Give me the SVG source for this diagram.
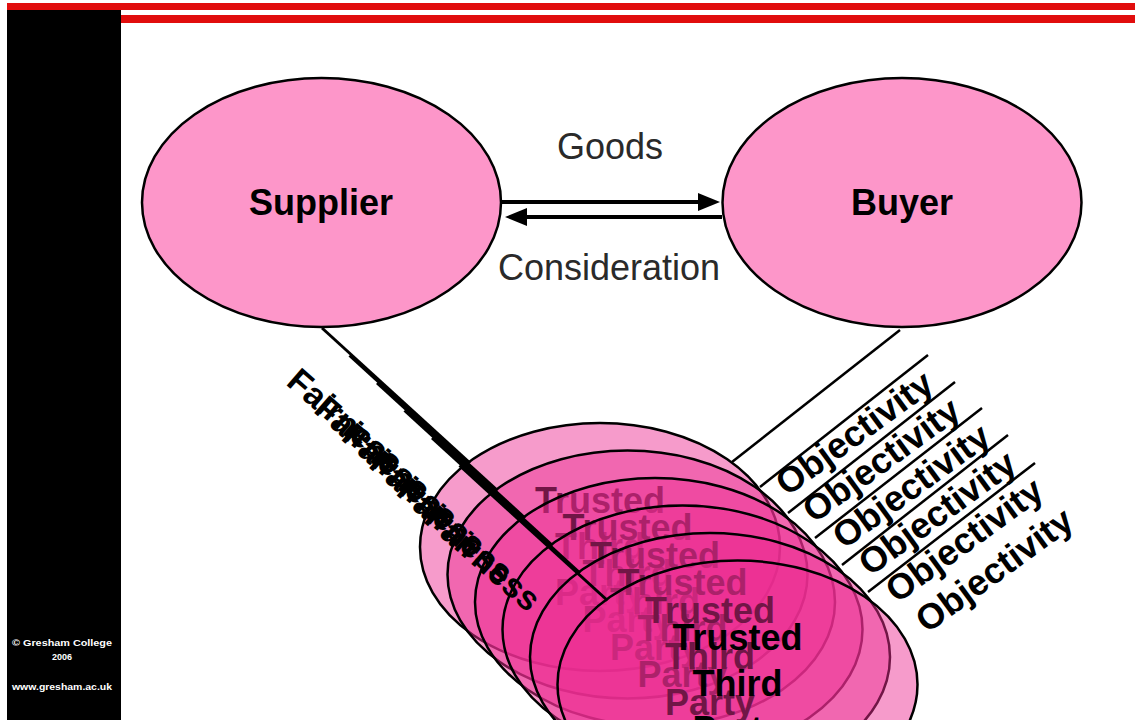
<svg xmlns="http://www.w3.org/2000/svg" width="1135" height="720" viewBox="0 0 1135 720">
<defs>
<style>
.red{fill:#e10d0d}
.side{fill:#000}
.sidetxt{fill:#fff;font-family:"Liberation Sans",Arial,sans-serif;font-weight:bold;font-size:9px;text-anchor:middle}
.party{fill:#fd96c9;stroke:#000;stroke-width:2.5}
.ptxt{font-family:"Liberation Sans",Arial,sans-serif;font-weight:bold;font-size:36px;fill:#000;text-anchor:middle}
.ttp{fill:#ec2f93;fill-opacity:0.48;stroke:#000;stroke-width:2.5}
.ttptxt{font-family:"Liberation Sans",Arial,sans-serif;font-weight:bold;font-size:36px;fill:#000;text-anchor:middle}
.flow{stroke:#000;stroke-width:4;fill:none}
.lbl{font-family:"Liberation Sans",Arial,sans-serif;font-size:36px;fill:#2a2a2a;text-anchor:middle}
.link{stroke:#000;stroke-width:3;fill:none}
.rlink{stroke:#000;stroke-width:2.5;fill:none}
.lnk{font-family:"Liberation Sans",Arial,sans-serif;font-weight:bold;font-size:34px;fill:#000}
.obj{font-size:36px}
</style>
<marker id="ah" markerUnits="userSpaceOnUse" markerWidth="22" markerHeight="18" refX="14" refY="9" orient="auto"><path d="M0,0 L22,9 L0,18 z" fill="#000"/></marker>
</defs>
<rect width="1135" height="720" fill="#fff"/>
<g id="frame">
<rect class="red" x="7" y="3" width="1128" height="7"/>
<rect class="red" x="121" y="15" width="1014" height="8"/>
<rect class="side" x="7" y="10" width="114" height="710"/>
<text class="sidetxt" x="62" y="646" textLength="100" lengthAdjust="spacingAndGlyphs">© Gresham College</text>
<text class="sidetxt" x="62" y="660">2006</text>
<text class="sidetxt" x="62" y="690" textLength="100" lengthAdjust="spacingAndGlyphs">www.gresham.ac.uk</text>
</g>
<g id="trusted-third-party">
<g id="ttp-0"><ellipse class="ttp" cx="600" cy="547" rx="180" ry="124"/><text class="ttptxt" x="600" y="512.5">Trusted</text><text class="ttptxt" x="600" y="558.5">Third</text><text class="ttptxt" x="600" y="604.5">Party</text></g>
<g id="ttp-1" transform="translate(27.5,27.5)"><ellipse class="ttp" cx="600" cy="547" rx="180" ry="124"/><text class="ttptxt" x="600" y="512.5">Trusted</text><text class="ttptxt" x="600" y="558.5">Third</text><text class="ttptxt" x="600" y="604.5">Party</text></g>
<g id="ttp-2" transform="translate(55,55)"><ellipse class="ttp" cx="600" cy="547" rx="180" ry="124"/><text class="ttptxt" x="600" y="512.5">Trusted</text><text class="ttptxt" x="600" y="558.5">Third</text><text class="ttptxt" x="600" y="604.5">Party</text></g>
<g id="ttp-3" transform="translate(82.5,82.5)"><ellipse class="ttp" cx="600" cy="547" rx="180" ry="124"/><text class="ttptxt" x="600" y="512.5">Trusted</text><text class="ttptxt" x="600" y="558.5">Third</text><text class="ttptxt" x="600" y="604.5">Party</text></g>
<g id="ttp-4" transform="translate(110,110)"><ellipse class="ttp" cx="600" cy="547" rx="180" ry="124"/><text class="ttptxt" x="600" y="512.5">Trusted</text><text class="ttptxt" x="600" y="558.5">Third</text><text class="ttptxt" x="600" y="604.5">Party</text></g>
<g id="ttp-5" transform="translate(137.5,137.5)"><ellipse class="ttp" cx="600" cy="547" rx="180" ry="124"/><text class="ttptxt" x="600" y="512.5">Trusted</text><text class="ttptxt" x="600" y="558.5">Third</text><text class="ttptxt" x="600" y="604.5">Party</text></g>
</g>
<g id="connectors">
<line class="flow" x1="502" y1="202" x2="712" y2="202" marker-end="url(#ah)"/>
<line class="flow" x1="722" y1="217" x2="513" y2="217" marker-end="url(#ah)"/>
<line class="link" x1="322" y1="328" x2="470" y2="463"/>
<line class="link" x1="349.5" y1="355.5" x2="497.5" y2="490.5"/>
<line class="link" x1="377" y1="383" x2="525" y2="518"/>
<line class="link" x1="404.5" y1="410.5" x2="552.5" y2="545.5"/>
<line class="link" x1="432" y1="438" x2="580" y2="573"/>
<line class="link" x1="459.5" y1="465.5" x2="607.5" y2="600.5"/>
<line class="rlink" x1="732" y1="462" x2="900" y2="330"/>
<line class="rlink" x1="760" y1="487" x2="928" y2="355"/>
<line class="rlink" x1="788" y1="513" x2="955" y2="382"/>
<line class="rlink" x1="815" y1="538" x2="982" y2="408"/>
<line class="rlink" x1="842" y1="565" x2="1008" y2="435"/>
<line class="rlink" x1="868" y1="592" x2="1035" y2="463"/>
<g id="connector-labels">
<text class="lbl" x="610" y="159">Goods</text>
<text class="lbl" x="609" y="280">Consideration</text>
<text class="lnk" transform="translate(285,384) rotate(41)">Fairness</text>
<text class="lnk" transform="translate(312.5,411.5) rotate(41)">Fairness</text>
<text class="lnk" transform="translate(340,439) rotate(41)">Fairness</text>
<text class="lnk" transform="translate(367.5,466.5) rotate(41)">Fairness</text>
<text class="lnk" transform="translate(395,494) rotate(41)">Fairness</text>
<text class="lnk" transform="translate(422.5,521.5) rotate(41)">Fairness</text>
<text class="lnk obj" transform="translate(787,497) rotate(-36)">Objectivity</text>
<text class="lnk obj" transform="translate(814,524) rotate(-36)">Objectivity</text>
<text class="lnk obj" transform="translate(844,550) rotate(-36)">Objectivity</text>
<text class="lnk obj" transform="translate(870,577) rotate(-36)">Objectivity</text>
<text class="lnk obj" transform="translate(897,604) rotate(-36)">Objectivity</text>
<text class="lnk obj" transform="translate(927,634) rotate(-36)">Objectivity</text>
</g>
</g>
<g id="supplier"><ellipse class="party" cx="321.5" cy="202.5" rx="179.5" ry="124.5"/><text class="ptxt" x="321" y="215">Supplier</text></g>
<g id="buyer"><ellipse class="party" cx="902" cy="202.5" rx="179.5" ry="124.5"/><text class="ptxt" x="902" y="215">Buyer</text></g>
</svg>
